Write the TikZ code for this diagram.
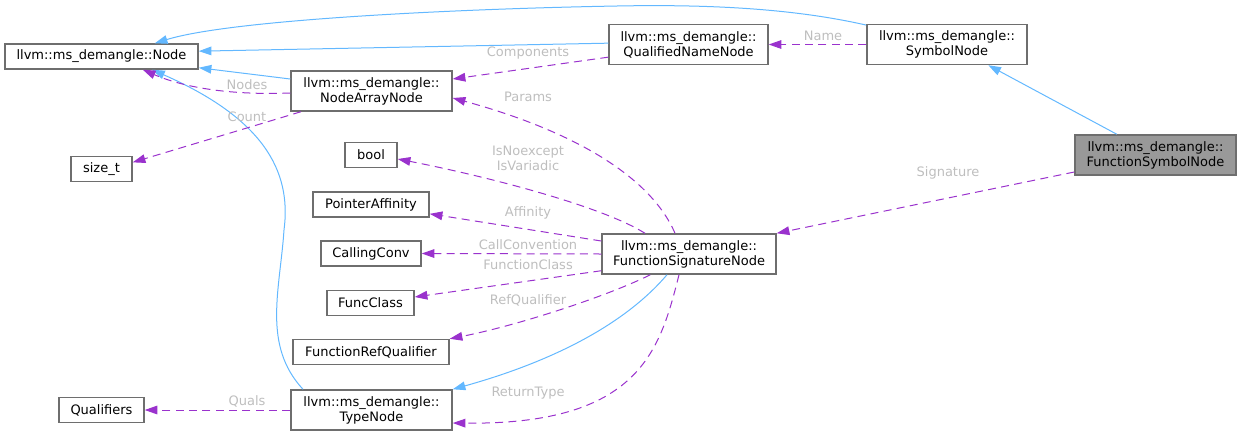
\documentclass[tikz,border=0pt]{standalone}
\usepackage{xcolor}
\usepackage{fontspec}
\setmainfont{DejaVu Sans}
\usepackage{tikz}
\usetikzlibrary{arrows.meta}
\definecolor{edgeblue}{RGB}{99,184,255}
\definecolor{edgepurple}{RGB}{154,50,205}
\definecolor{boxgray}{RGB}{110,110,110}
\definecolor{focusgray}{RGB}{153,153,153}
\definecolor{labelgray}{RGB}{190,190,190}

\begin{document}
\begin{tikzpicture}[
  x=0.75pt, y=-0.75pt,
  cls/.style={rectangle, draw=boxgray, fill=white, line width=1.1pt, inner sep=0pt,
              align=center, minimum height=18.75pt,
              font=\fontsize{9.75}{11.25}\selectfont},
  cls2/.style={cls, minimum height=30pt},
  focus/.style={cls2, fill=focusgray},
  inh/.style={-{Triangle[length=9.5pt, width=6.5pt]}, color=edgeblue, line width=0.75pt},
  dep/.style={-{Triangle[length=9.5pt, width=6.5pt]}, color=edgepurple, line width=0.75pt,
              dash pattern=on 6pt off 4pt},
  lbl/.style={font=\fontsize{9.75}{11.25}\selectfont, text=labelgray, align=center,
              inner sep=0pt}
]
  \useasboundingbox (0,0) rectangle (1241,436);

  % Left column
  \node[cls, minimum width=144.75pt] (node) at (101.5,56.5) {llvm::ms\_demangle::Node};
  \node[cls, minimum width=45.75pt]  (size) at (101.5,169)  {size\_t};
  \node[cls, minimum width=63.75pt]  (qual) at (101.5,410)  {Qualifiers};

  % Middle column
  \node[cls2, minimum width=120.75pt] (nan)  at (371.5,91)  {llvm::ms\_demangle::\\NodeArrayNode};
  \node[cls, minimum width=39pt]      (bool) at (371,155)   {bool};
  \node[cls, minimum width=87pt]      (pa)   at (371,204.5) {PointerAffinity};
  \node[cls, minimum width=75pt]      (cc)   at (371,253.5) {CallingConv};
  \node[cls, minimum width=65.25pt]   (fc)   at (370.5,303) {FuncClass};
  \node[cls, minimum width=117pt]     (frq)  at (371,352)   {FunctionRefQualifier};
  \node[cls2, minimum width=120.75pt] (tn)   at (371.5,410) {llvm::ms\_demangle::\\TypeNode};

  % Right part
  \node[cls2, minimum width=119.25pt] (qnn)  at (688.5,44.5) {llvm::ms\_demangle::\\QualifiedNameNode};
  \node[cls2, minimum width=130.5pt]  (fsig) at (689,254)    {llvm::ms\_demangle::\\FunctionSignatureNode};
  \node[cls2, minimum width=120pt]    (sym)  at (947,44.5)   {llvm::ms\_demangle::\\SymbolNode};
  \node[focus, minimum width=120.75pt] (fsn) at (1155.5,155) {llvm::ms\_demangle::\\FunctionSymbolNode};

  % ── Inheritance ───────────────────────────────────────────────────────
  \draw[inh] ([yshift=1pt]qnn.west) -- ([yshift=4pt]node.east);
  \draw[inh] ([yshift=-1pt]sym.north west) .. controls (800,10) and (720,4) .. (617,6)
             .. controls (450,9) and (230,20) .. ([xshift=40pt]node.north);
  \draw[inh] ([yshift=9pt]nan.west) -- ([yshift=1.5pt]node.south east);
  \draw[inh] ([xshift=-51.4pt]tn.north) .. controls (262,345) and (280,290) .. (284,230)
             .. controls (292,170) and (262,118) .. ([xshift=38pt]node.south);
  \draw[inh] ([xshift=-29pt]fsn.north) -- ([xshift=31pt]sym.south);
  \draw[inh] ([xshift=-16.5pt]fsig.south) .. controls (620,330) and (540,365) .. (tn.north east);

  % ── Members ───────────────────────────────────────────────────────────
  \draw[dep] (sym.west) -- (qnn.east) node[lbl] at (823,36) {Name};
  \draw[dep] ([yshift=-9.5pt]qnn.west) -- ([yshift=9pt]nan.east)
        node[lbl] at (528,53) {Components};
  \draw[dep] ([yshift=-1.5pt]nan.west) .. controls (240,95) and (190,90) .. ([xshift=31pt]node.south)
        node[lbl] at (247,85) {Nodes};
  \draw[dep] ([xshift=8pt]nan.south west) -- ([yshift=5pt]size.east)
        node[lbl] at (247,117) {Count};
  \draw[dep] ([yshift=-12.75pt]fsn.west) -- (fsig.north east)
        node[lbl] at (948,173) {Signature};

  % FunctionSignatureNode members
  \draw[dep] ([xshift=-10.5pt]fsig.north) .. controls (650,175) and (570,130) .. ([yshift=-5.25pt]nan.east)
        node[lbl] at (528,97) {Params};
  \draw[dep] ([xshift=-33pt]fsig.north) .. controls (600,205) and (480,175) .. ([yshift=-3pt]bool.east)
        node[lbl] at (528,158) {IsNoexcept\\IsVariadic};
  \draw[dep] ([yshift=9.75pt]fsig.west) -- ([yshift=-7pt]pa.east)
        node[lbl] at (528,213) {Affinity};
  \draw[dep] (fsig.west) -- (cc.east)
        node[lbl] at (528,245) {CallConvention};
  \draw[dep] ([yshift=3pt]fsig.south west) -- ([yshift=4.5pt]fc.east)
        node[lbl] at (528,265) {FunctionClass};
  \draw[dep] ([xshift=-29pt]fsig.south) .. controls (610,295) and (520,325) .. (frq.north east)
        node[lbl] at (528,300) {RefQualifier};
  \draw[dep] ([xshift=-7.5pt]fsig.south) .. controls (660,350) and (640,425) .. ([yshift=-9.75pt]tn.east)
        node[lbl] at (528,393) {ReturnType};

  % TypeNode member
  \draw[dep] (tn.west) -- (qual.east) node[lbl] at (247,401) {Quals};

\end{tikzpicture}
\end{document}
